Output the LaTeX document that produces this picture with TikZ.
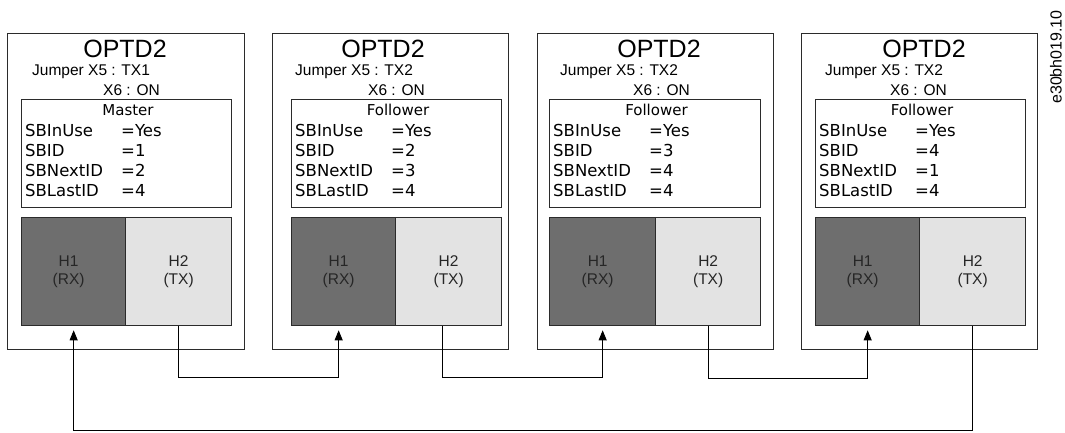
\documentclass[tikz,border=0pt]{standalone}
\usepackage{fontspec}
\setmainfont{Liberation Sans}
\newfontfamily\vfont{DejaVu Sans}
\usetikzlibrary{arrows.meta}
\definecolor{linec}{HTML}{2B2B2B}
\definecolor{rxc}{HTML}{6E6E6E}
\definecolor{txc}{HTML}{E3E3E3}
\definecolor{htc}{HTML}{262626}
\tikzset{
  outerbox/.style={draw=linec, line width=1.3pt, rectangle, inner sep=0pt, anchor=north west, minimum height=316pt},
  infobox/.style={draw=linec, line width=1.3pt, rectangle, inner sep=0pt, anchor=north west, minimum height=108pt},
  rxbox/.style={draw=linec, line width=1.3pt, fill=rxc, rectangle, inner sep=0pt, anchor=north west, minimum height=108pt},
  txbox/.style={draw=linec, line width=1.3pt, fill=txc, rectangle, inner sep=0pt, anchor=north west, minimum height=108pt},
  titletxt/.style={inner sep=0pt, anchor=base, font=\fontsize{25}{28}\selectfont},
  jumptxt/.style={inner sep=0pt, anchor=base west, font=\fontsize{15.5}{18}\selectfont},
  roletxt/.style={inner sep=0pt, anchor=base, font=\vfont\fontsize{15}{18}\selectfont},
  paramtxt/.style={inner sep=0pt, anchor=base west, font=\vfont\fontsize{16.5}{19}\selectfont},
  htxt/.style={inner sep=0pt, align=center, text=htc, font=\fontsize{15.5}{18}\selectfont},
  conn/.style={draw=black, line width=0.9pt},
  arr/.style={-{Triangle[length=10pt,width=8pt]}, shorten >=4pt}
}
\begin{document}
\begin{tikzpicture}[x=1pt,y=-1pt]
\useasboundingbox (0,0) rectangle (1065,433);
\foreach \n/\oL/\oR/\iL/\iR/\sX/\tC/\jX/\xX/\tX/\rol/\sid/\nid in {
  1/7/244/21/231/125/125/32/103/TX1/Master/1/2,
  2/272/508/291/501/395/383/295/368/TX2/Follower/2/3,
  3/537/773/549/760/655/659/560/633/TX2/Follower/3/4,
  4/801/1037/815/1025/919/924/825/890/TX2/Follower/4/1}{
  \node[outerbox, minimum width={(\oR-\oL)*1pt}] (out\n) at (\oL,33) {};
  \node[titletxt] (ttl\n) at (\tC,58) {OPTD2};
  \node[jumptxt] (jmp\n) at (\jX,76) {Jumper X5 : \tX};
  \node[jumptxt] (xsix\n) at (\xX,96) {X6 : ON};
  \node[infobox, minimum width={(\iR-\iL)*1pt}] (info\n) at (\iL,99) {};
  \node[roletxt] (role\n) at ({(\iL+\iR)/2+2},116) {\rol};
  \foreach \k/\lab/\val/\yy in {1/SBInUse/Yes/137, 2/SBID/\sid/157, 3/SBNextID/\nid/176.5, 4/SBLastID/4/196}{
    \node[paramtxt] (lab\n\k) at (\iL+4,\yy) {\lab};
    \node[paramtxt] (val\n\k) at (\iL+100,\yy) {=\val};
  }
  \node[rxbox, minimum width={(\sX-\iL)*1pt}] (rx\n) at (\iL,217) {};
  \node[txbox, minimum width={(\iR-\sX)*1pt}] (tx\n) at (\sX,217) {};
  \node[htxt, xshift=-5pt] (rxl\n) at (rx\n.center) {H1\\(RX)};
  \node[htxt] (txl\n) at (tx\n.center) {H2\\(TX)};
}
\draw[conn, arr] (tx1.south) -- ++(0,51) -| ([xshift=-5pt]rx2.south);
\draw[conn, arr] ([xshift=-6pt]tx2.south) -- ++(0,51) -| (rx3.south);
\draw[conn, arr] (tx3.south) -- ++(0,52) -| (rx4.south);
\draw[conn, arr] (tx4.south) -- ++(0,104) -| (rx1.south);
\node[rotate=90, inner sep=0pt, font=\fontsize{16}{18}\selectfont] (code) at (1056,57) {e30bh019.10};
\end{tikzpicture}
\end{document}
